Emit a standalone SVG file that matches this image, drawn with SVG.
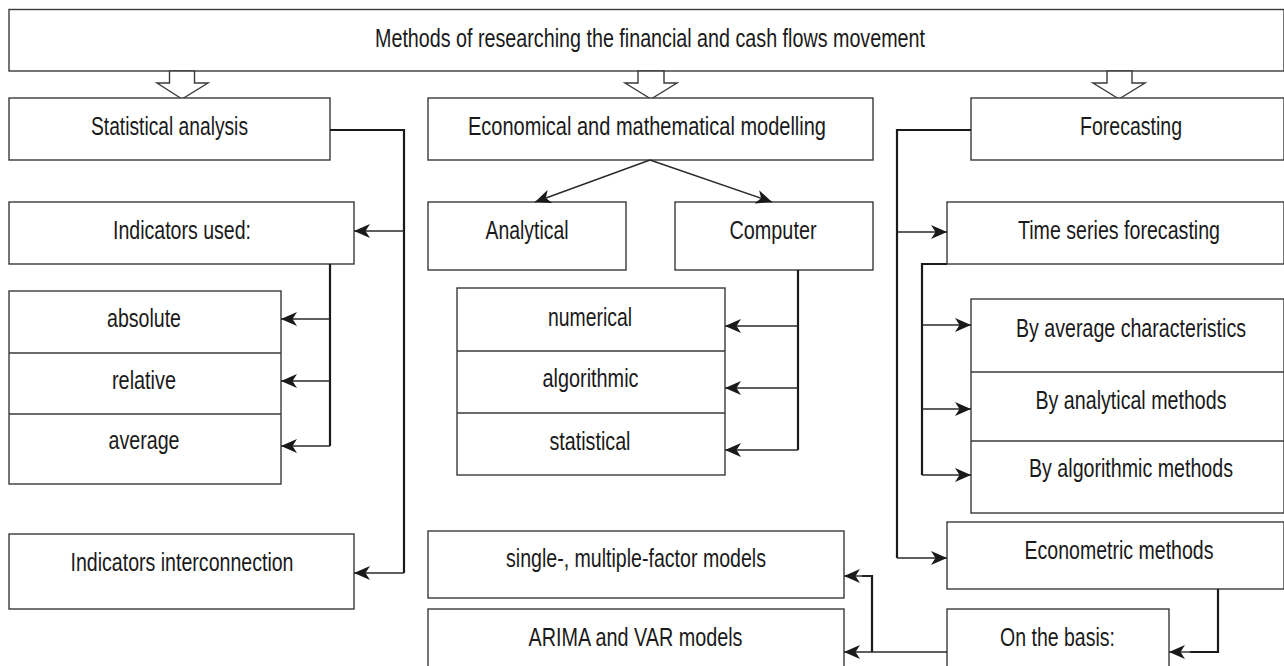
<svg xmlns="http://www.w3.org/2000/svg" width="1284" height="666" viewBox="0 0 1284 666">
<style>
.box{fill:#fff;stroke:#3a3a3a;stroke-width:1.4}
.div{fill:none;stroke:#3a3a3a;stroke-width:1.3}
.t{font-family:"Liberation Sans",Arial,sans-serif;font-size:25px;fill:#1a1a1a;text-anchor:middle}
.trunk{fill:none;stroke:#1a1a1a;stroke-width:2.2}
.arr{fill:none;stroke:#2a2a2a;stroke-width:1.4;marker-end:url(#ah)}
.blk{fill:#fff;stroke:#3a3a3a;stroke-width:1.4;stroke-linejoin:miter}
</style>
<defs>
<marker id="ah" markerUnits="userSpaceOnUse" viewBox="0 0 16 14" markerWidth="16" markerHeight="14" refX="16" refY="7" orient="auto">
<path d="M0,0 L16,7 L0,14 L4.5,7 Z" fill="#1a1a1a"/>
</marker>
</defs>
<rect width="1284" height="666" fill="#fff"/>

<g id="top">
<rect class="box" x="9" y="9.5" width="1275" height="61.5"/>
<text class="t" x="650" y="46.5" textLength="550" lengthAdjust="spacingAndGlyphs">Methods of researching the financial and cash flows movement</text>
</g>

<g id="block-arrows">
<polygon class="blk" points="169.5,71 169.5,83 157,83 182,99 208,83 194.5,83 194.5,71"/>
<polygon class="blk" points="638,71 638,83 625,83 651,99 677,83 664,83 664,71"/>
<polygon class="blk" points="1107,71 1107,83 1093,83 1119,99 1145,83 1132,83 1132,71"/>
</g>

<g id="stat">
<rect class="box" x="9" y="98" width="321" height="62"/>
<text class="t" x="169.5" y="135" textLength="157" lengthAdjust="spacingAndGlyphs">Statistical analysis</text>
</g>
<g id="econ">
<rect class="box" x="428" y="98" width="445" height="62"/>
<text class="t" x="647" y="135" textLength="358" lengthAdjust="spacingAndGlyphs">Economical and mathematical modelling</text>
</g>
<g id="forecast">
<rect class="box" x="971" y="98" width="313" height="62"/>
<text class="t" x="1131" y="135" textLength="102" lengthAdjust="spacingAndGlyphs">Forecasting</text>
</g>

<g id="ind-used">
<rect class="box" x="9" y="202" width="345" height="62"/>
<text class="t" x="182" y="238.5" textLength="138" lengthAdjust="spacingAndGlyphs">Indicators used:</text>
</g>
<g id="ind-types">
<rect class="box" x="9" y="291" width="272" height="193"/>
<line class="div" x1="9" y1="353" x2="281" y2="353"/>
<line class="div" x1="9" y1="414" x2="281" y2="414"/>
<text class="t" x="144" y="327" textLength="74" lengthAdjust="spacingAndGlyphs">absolute</text>
<text class="t" x="144" y="388.5" textLength="64" lengthAdjust="spacingAndGlyphs">relative</text>
<text class="t" x="144" y="448.5" textLength="71" lengthAdjust="spacingAndGlyphs">average</text>
</g>
<g id="ind-inter">
<rect class="box" x="9" y="534" width="345" height="75"/>
<text class="t" x="182" y="570.5" textLength="223" lengthAdjust="spacingAndGlyphs">Indicators interconnection</text>
</g>

<g id="analytical">
<rect class="box" x="428" y="202" width="198" height="68"/>
<text class="t" x="527" y="238.5" textLength="83" lengthAdjust="spacingAndGlyphs">Analytical</text>
</g>
<g id="computer">
<rect class="box" x="675" y="202" width="198" height="68"/>
<text class="t" x="773" y="238.5" textLength="87" lengthAdjust="spacingAndGlyphs">Computer</text>
</g>
<g id="comp-types">
<rect class="box" x="457" y="288" width="268" height="187"/>
<line class="div" x1="457" y1="351" x2="725" y2="351"/>
<line class="div" x1="457" y1="413" x2="725" y2="413"/>
<text class="t" x="590" y="325.5" textLength="84" lengthAdjust="spacingAndGlyphs">numerical</text>
<text class="t" x="590.5" y="387" textLength="96" lengthAdjust="spacingAndGlyphs">algorithmic</text>
<text class="t" x="590" y="449.5" textLength="81" lengthAdjust="spacingAndGlyphs">statistical</text>
</g>
<g id="single">
<rect class="box" x="428" y="531" width="416" height="67"/>
<text class="t" x="636" y="567" textLength="260" lengthAdjust="spacingAndGlyphs">single-, multiple-factor models</text>
</g>
<g id="arima">
<rect class="box" x="428" y="609" width="416" height="80"/>
<text class="t" x="635.5" y="645.5" textLength="214" lengthAdjust="spacingAndGlyphs">ARIMA and VAR models</text>
</g>

<g id="time-series">
<rect class="box" x="947" y="202" width="337" height="62"/>
<text class="t" x="1119" y="238.5" textLength="202" lengthAdjust="spacingAndGlyphs">Time series forecasting</text>
</g>
<g id="ts-types">
<rect class="box" x="971" y="299" width="313" height="214"/>
<line class="div" x1="971" y1="372" x2="1284" y2="372"/>
<line class="div" x1="971" y1="441" x2="1284" y2="441"/>
<text class="t" x="1131" y="337" textLength="230" lengthAdjust="spacingAndGlyphs">By average characteristics</text>
<text class="t" x="1131" y="408.5" textLength="191" lengthAdjust="spacingAndGlyphs">By analytical methods</text>
<text class="t" x="1131" y="477" textLength="204" lengthAdjust="spacingAndGlyphs">By algorithmic methods</text>
</g>
<g id="econometric">
<rect class="box" x="947" y="522" width="337" height="67"/>
<text class="t" x="1119" y="558.5" textLength="189" lengthAdjust="spacingAndGlyphs">Econometric methods</text>
</g>
<g id="basis">
<rect class="box" x="947" y="609" width="222" height="80"/>
<text class="t" x="1057.5" y="645.5" textLength="115" lengthAdjust="spacingAndGlyphs">On the basis:</text>
</g>

<g id="connectors">
<polyline class="trunk" points="330,130 404,130 404,573"/>
<line class="arr" x1="404" y1="231" x2="354" y2="231"/>
<line class="arr" x1="404" y1="573" x2="354" y2="573"/>
<line class="trunk" x1="330" y1="264" x2="330" y2="446"/>
<line class="arr" x1="330" y1="319" x2="281" y2="319"/>
<line class="arr" x1="330" y1="381" x2="281" y2="381"/>
<line class="arr" x1="330" y1="446" x2="281" y2="446"/>
<line class="arr" x1="650" y1="160" x2="535" y2="202"/>
<line class="arr" x1="650" y1="160" x2="772" y2="202"/>
<line class="trunk" x1="798" y1="270" x2="798" y2="450"/>
<line class="arr" x1="798" y1="326" x2="725" y2="326"/>
<line class="arr" x1="798" y1="388" x2="725" y2="388"/>
<line class="arr" x1="798" y1="450" x2="725" y2="450"/>
<polyline class="trunk" points="971,130 897,130 897,558"/>
<line class="arr" x1="897" y1="232" x2="947" y2="232"/>
<line class="arr" x1="897" y1="558" x2="947" y2="558"/>
<polyline class="trunk" points="947,264 922,264 922,475"/>
<line class="arr" x1="922" y1="325" x2="971" y2="325"/>
<line class="arr" x1="922" y1="409" x2="971" y2="409"/>
<line class="arr" x1="922" y1="475" x2="971" y2="475"/>
<polyline class="trunk" points="1218,589 1218,652 1190,652"/>
<line class="arr" x1="1192" y1="652" x2="1169" y2="652"/>
<line class="arr" x1="947" y1="652" x2="844" y2="652"/>
<polyline class="trunk" points="872,652 872,576 862,576"/>
<line class="arr" x1="872" y1="576" x2="844" y2="576"/>
</g>
</svg>
